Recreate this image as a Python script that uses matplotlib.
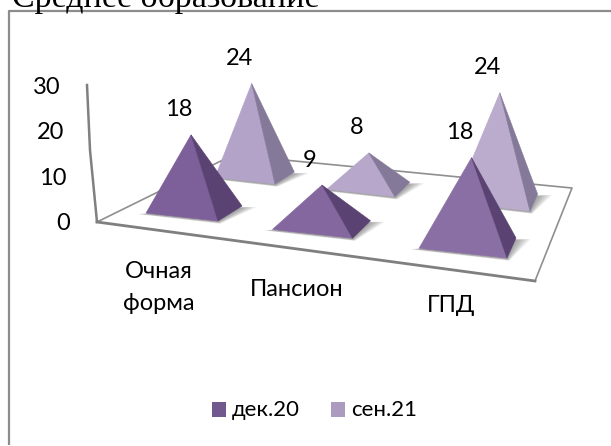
import numpy as np
import matplotlib
matplotlib.use("Agg")
import matplotlib.pyplot as plt
from matplotlib.colors import to_rgb
from matplotlib.patches import Polygon, Rectangle

plt.rcParams["font.family"] = ["Lato", "Noto Sans", "DejaVu Sans"]

# Data
categories = ["Очная", "форма", "Пансион", "ГПД"]
series_names = ["дек.20", "сен.21"]
dec20 = [18, 9, 18]
sep21 = [24, 8, 24]
y_ticks = [0, 10, 20, 30]

W, H = 611, 446
fig = plt.figure(figsize=(W / 100, H / 100), dpi=100)
ax = fig.add_axes([0, 0, 1, 1])
ax.set_xlim(0, W)
ax.set_ylim(H, 0)
ax.axis("off")


def make_plane(dst):
    # homography from the unit square to pixels
    src = [(0, 0), (1, 0), (1, 1), (0, 1)]
    A, b = [], []
    for (u, v), (x, y) in zip(src, dst):
        A.append([u, v, 1, 0, 0, 0, -u * x, -v * x])
        A.append([0, 0, 0, u, v, 1, -u * y, -v * y])
        b += [x, y]
    h = np.linalg.solve(np.array(A, float), np.array(b, float))

    def project(u, v):
        w = h[6] * u + h[7] * v + 1
        return (h[0] * u + h[1] * v + h[2]) / w, (h[3] * u + h[4] * v + h[5]) / w

    return project


# Frame: only the left and top lines are in the picture
ax.plot([9, 9, W], [H - 1, 11, 11], color="#8c8c8c", lw=1.6, solid_capstyle="butt")

# Title, cut by the top of the picture
ax.text(12, 7, "Среднее образование", family="Liberation Serif", fontsize=24.5,
        ha="left", va="baseline", color="black")

# Floor and axes
floor = [(97, 222), (535, 281), (572, 188), (233, 155)]
line = "#8f8f8f"
ax.plot([floor[0][0], floor[3][0], floor[2][0], floor[1][0]],
        [floor[0][1], floor[3][1], floor[2][1], floor[1][1]], color=line, lw=1.2, zorder=1)
ax.plot([floor[0][0], floor[1][0]], [floor[0][1], floor[1][1]], color="#7f7f7f", lw=2, zorder=1)
ax.plot([87, 90, 97], [85, 150, 222], color="#808080", lw=1.8, zorder=1)

tick_y = np.interp(y_ticks, [0, 30], [224, 87])
for t, y in zip(y_ticks, tick_y):
    ax.text(70 - 0.3 * t, y, str(t), fontsize=17, ha="right", va="center")

# Front vertex of every pyramid base lies on this plane
front_plane = make_plane([(218, 221), (507, 258), (530, 211), (275, 184)])
vanish = np.array([644.0, -45.0])
colors = [("#7d5f9a", "#5a4272"), ("#b3a3c8", "#85799a")]
soften = 0.10


def pyramid(i, j, value, zo):
    u, v = i / 2, j
    front = np.array(front_plane(u, v))
    width = 72 + 16 * u - 12 * v
    left = front - width * np.array([1, 0.11])
    rise = 15 + 5 * u - 3 * v
    to_vp = vanish - front
    right = front + to_vp * rise / -to_vp[1]
    centre = (left + right) / 2
    scale = 4.15 + 0.6 * u - 0.35 * v
    apex = centre - np.array([0, value * scale]) + np.array([-3 + 7 * u, 0])

    # soft shadow around the footprint
    for k in range(7):
        g = 1 + k * 1.7
        pts = [left + [-g * 0.8, 1], front + [g * 0.2, 1 + g * 0.15], right + [g * 1.3, 1], centre]
        ax.add_patch(Polygon(pts, fc="#4a4a4a", ec="none", alpha=0.09, zorder=zo))

    # later categories are a little lighter
    f = np.array(to_rgb(colors[j][0]))
    f = f + (1 - f) * soften * u
    s = colors[j][1]
    ax.add_patch(Polygon([left, front, apex], fc=f, ec=f, lw=0.4, zorder=zo + 0.1))
    ax.add_patch(Polygon([front, right, apex], fc=s, ec=s, lw=0.4, zorder=zo + 0.1))
    return apex


for j, vals in reversed(list(enumerate([dec20, sep21]))):
    for i, val in enumerate(vals):
        apex = pyramid(i, j, val, 3 + (1 - j) * 2)
        ax.text(apex[0] - 12, apex[1] - 25, str(val), fontsize=17,
                ha="center", va="center", zorder=9)

# Category labels
ax.text(159, 272, categories[0], fontsize=17, ha="center", va="center")
ax.text(159, 304, categories[1], fontsize=17, ha="center", va="center")
ax.text(297, 289, categories[2], fontsize=17, ha="center", va="center")
ax.text(451, 306, categories[3], fontsize=17, ha="center", va="center")

# Legend
ax.add_patch(Rectangle((212, 402), 14, 15, fc="#71588f", ec="none"))
ax.text(232, 410, series_names[0], fontsize=16, ha="left", va="center")
ax.add_patch(Rectangle((331, 402), 14, 15, fc="#aa9bbf", ec="none"))
ax.text(351, 410, series_names[1], fontsize=16, ha="left", va="center")

fig.savefig("out.png", dpi=100)
